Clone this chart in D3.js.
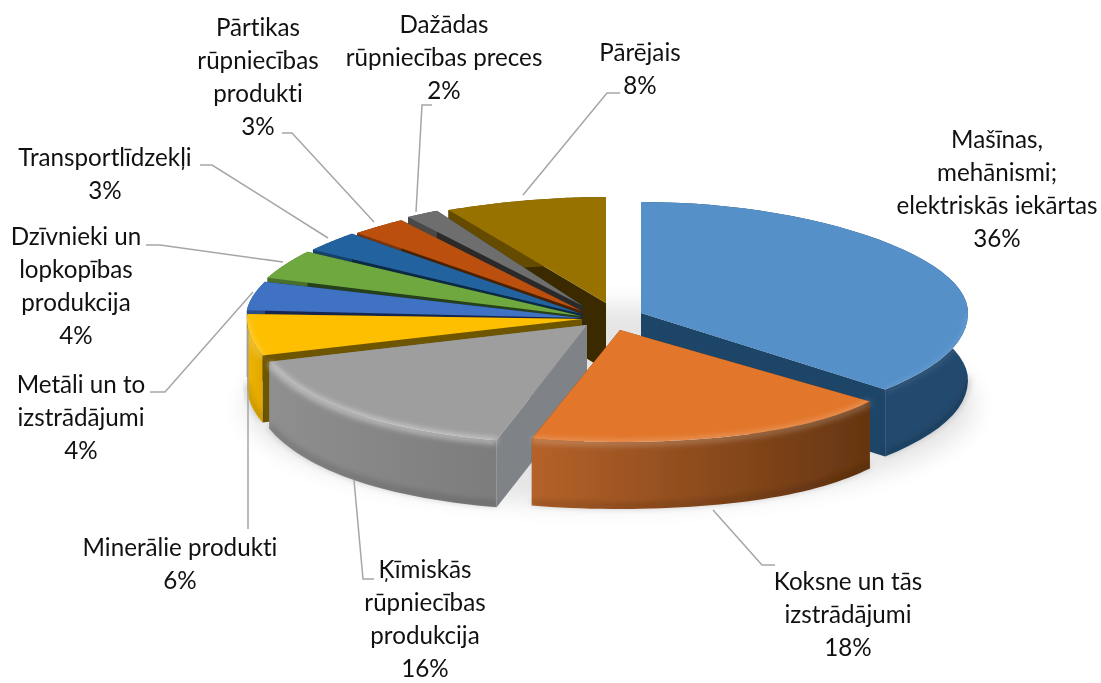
<!DOCTYPE html>
<html>
<head>
<meta charset="utf-8">
<script src="https://cdn.jsdelivr.net/npm/d3@7"></script>
<style>
html, body { margin: 0; padding: 0; background: #fff; }
text { font-family: Lato, "Open Sans", sans-serif; font-size: 24.2px; fill: #111; font-variant-ligatures: none; }
</style>
</head>
<body>
<svg id="drawing_region" width="1101" height="683"></svg>
<script>
// data, in chart order (clockwise from 12 o'clock)
const categories = [
    ['Mašīnas,', 'mehānismi;', 'elektriskās iekārtas'],
    ['Koksne un tās', 'izstrādājumi'],
    ['Ķīmiskās', 'rūpniecības', 'produkcija'],
    ['Minerālie produkti'],
    ['Metāli un to', 'izstrādājumi'],
    ['Dzīvnieki un', 'lopkopības', 'produkcija'],
    ['Transportlīdzekļi'],
    ['Pārtikas', 'rūpniecības', 'produkti'],
    ['Dažādas', 'rūpniecības preces'],
    ['Pārējais']
];
const shares = [36, 18, 16, 6, 4, 4, 3, 3, 2, 8];

// styles
const topColors  = ['#5590c9', '#e2762a', '#9e9e9e', '#fdbf00', '#3f72c4', '#6fa83f', '#24649f', '#bb4f0c', '#6e6e6e', '#987200'];
const wallColors = ['#234a6e', '#b5622a', '#8f8f8f', '#f0b400', '#2a4c86', '#4a7029', '#17426a', '#7c3408', '#494949', '#654c00'];
const wallEnds   = ['#234a6e', '#653510', '#7c7c7c', '#e0a800', '#2a4c86', '#4a7029', '#17426a', '#7c3408', '#494949', '#654c00'];
const faceColors = ['#1f4467', '#6d3a12', '#7f8287', '#6e5400', '#16284f', '#26401a', '#0c2a44', '#4a2005', '#2b2b2b', '#3b2c00'];
const bevelGlow  = [0.12, 0.35, 0.7, 0.35, 0, 0, 0, 0, 0, 0];

// layout of each slice on the page
const apexX = [641, 620, 587, 582, 581, 581, 582, 582, 583, 606];
const apexY = [313, 330, 325, 319, 318, 316, 314, 311, 306, 303];
const radiusX = [327, 312, 333, 335, 335, 335, 335, 335, 335, 376];
const backRy = [111, 112, 113, 118, 125, 124, 120, 114, 110, 106];
const frontRy = [120, 112, 119, 118, 118, 118, 118, 118, 118, 106];
const backWarp = [0.07, 0, 0, 0.17, 0.17, 0.17, 0.17, 0.17, 0.17, 0.17];
const frontWarp = [-0.12, 0.15, 0.1, 0.1, 0, 0, 0, 0, 0, 0];
const depth = 67;
const gapDeg = 1.2;

// label layout: centre x, first baseline y, and leader points
const labelX = [997, 848, 425, 180, 81, 76, 105, 258, 444, 640];
const labelY = [148, 590, 578, 556, 393, 245, 166, 36, 33, 61];
const lineStep = 33;
const leaders = [
    null,
    [[713, 510], [762, 565], [775, 565]],
    [[354, 480], [363, 579], [374, 579]],
    [[248, 330], [248, 529]],
    [[253, 292], [165, 392], [150, 392]],
    [[283, 262], [160, 245], [146, 245]],
    [[328, 238], [212, 165], [200, 165]],
    [[374, 222], [292, 133], [282, 133]],
    [[416, 212], [422, 105], [432, 105]],
    [[523, 195], [607, 93], [620, 93]]
];

const svg = d3.select('#drawing_region');
const defs = svg.append('defs');
defs.append('filter').attr('id', 'soft').append('feGaussianBlur').attr('stdDeviation', 0.7);
defs.append('filter').attr('id', 'glow').attr('x', '-30%').attr('y', '-30%').attr('width', '160%').attr('height', '160%')
    .append('feGaussianBlur').attr('stdDeviation', 12);
defs.append('filter').attr('id', 'bevel').attr('x', '-20%').attr('y', '-30%').attr('width', '140%').attr('height', '160%')
    .append('feGaussianBlur').attr('stdDeviation', 3);

const pie = d3.pie().sort(null).value(d => d).startAngle(0).endAngle(2 * Math.PI);
const arcs = pie(shares);
const line = d3.line().x(d => d[0]).y(d => d[1]);

function project(i, a, drop) {
    const c = Math.cos(a), s = Math.sin(a);
    const warp = c > 0 ? 1 - backWarp[i] * c * c : 1 + frontWarp[i] * Math.pow(-c, 3);
    const ry = c > 0 ? backRy[i] : frontRy[i];
    return [apexX[i] + s * radiusX[i] * warp, apexY[i] - c * ry + (drop || 0)];
}

function rim(i, a0, a1, drop) {
    return d3.range(0, 41).map(k => project(i, a0 + (a1 - a0) * k / 40, drop));
}

// soft shadow behind the pie
svg.append('ellipse')
    .attr('cx', 610).attr('cy', 405).attr('rx', 365).attr('ry', 100)
    .attr('fill', '#000').attr('opacity', 0.1).attr('filter', 'url(#glow)');

const pieG = svg.append('g').attr('filter', 'url(#soft)');

// back to front
const paintOrder = [9, 8, 7, 6, 5, 4, 3, 0, 2, 1];
paintOrder.forEach(i => {
    const d = arcs[i];
    const a0 = d.startAngle, a1 = d.endAngle - (i >= 3 && i < 9 ? gapDeg * Math.PI / 180 : 0);
    const g = pieG.append('g');
    const apex = [apexX[i], apexY[i]];
    const top = rim(i, a0, a1, 0);
    const low = rim(i, a0, a1, depth);

    const grad = defs.append('linearGradient').attr('id', 'wall' + i)
        .attr('gradientUnits', 'userSpaceOnUse')
        .attr('x1', d3.min(top, p => p[0])).attr('x2', d3.max(top, p => p[0]))
        .attr('y1', 0).attr('y2', 0);
    grad.append('stop').attr('offset', 0).attr('stop-color', wallColors[i]);
    grad.append('stop').attr('offset', 1).attr('stop-color', wallEnds[i]);

    // cut faces
    [a0, a1].forEach(a => {
        const p = project(i, a, 0), q = project(i, a, depth);
        g.append('path')
            .attr('d', line([apex, p, q, [apex[0], apex[1] + depth]]) + 'Z')
            .attr('fill', faceColors[i]);
    });

    // outer wall
    g.append('path')
        .attr('d', line(top.concat(low.slice().reverse())) + 'Z')
        .attr('fill', `url(#wall${i})`);

    // darker foot of the wall
    const f0 = Math.max(a0, Math.PI / 2), f1 = Math.min(a1, 3 * Math.PI / 2);
    if (f1 > f0 && bevelGlow[i] > 0) {
        g.append('path')
            .attr('d', line(rim(i, f0, f1, depth - 3)))
            .attr('fill', 'none').attr('stroke', '#000')
            .attr('stroke-width', 4).attr('opacity', 0.22)
            .attr('filter', 'url(#bevel)');
    }

    // top face
    g.append('path')
        .attr('d', line([apex].concat(top)) + 'Z')
        .attr('fill', topColors[i]);

    // bevel light along the front edge
    if (f1 > f0 && bevelGlow[i] > 0) {
        g.append('path')
            .attr('d', line(rim(i, f0, f1, 1)))
            .attr('fill', 'none').attr('stroke', '#fff')
            .attr('stroke-width', 4).attr('opacity', bevelGlow[i])
            .attr('filter', 'url(#bevel)');
    }
});

// leader lines
svg.append('g').selectAll('path')
    .data(leaders.filter(d => d))
    .join('path')
    .attr('d', d => line(d))
    .attr('fill', 'none').attr('stroke', '#a6a6a6').attr('stroke-width', 1.5);

// labels
const labels = svg.append('g').selectAll('text')
    .data(categories)
    .join('text')
    .attr('text-anchor', 'middle')
    .attr('x', (d, i) => labelX[i])
    .attr('y', (d, i) => labelY[i]);

labels.selectAll('tspan')
    .data((d, i) => d.concat([shares[i] + '%']).map(t => ({ t, i })))
    .join('tspan')
    .attr('x', d => labelX[d.i])
    .attr('dy', (d, k) => k === 0 ? 0 : lineStep)
    .text(d => d.t);
</script>
</body>
</html>
